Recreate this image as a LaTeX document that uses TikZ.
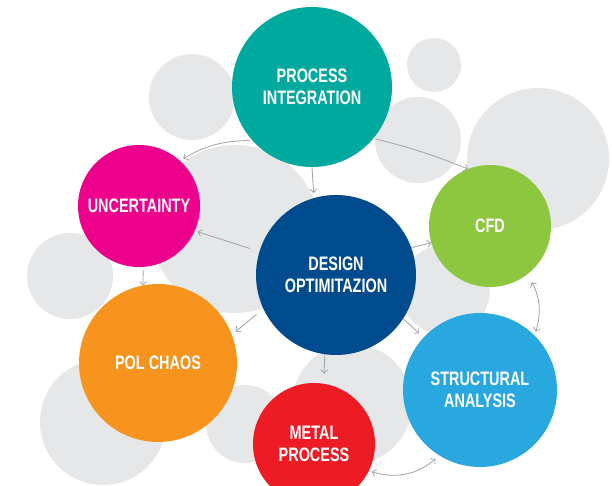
\documentclass[tikz,border=0pt]{standalone}
\usepackage{fontspec}
\newfontfamily\lblfont[FakeStretch=0.74]{Liberation Sans}
\usetikzlibrary{arrows.meta}
\definecolor{bggray}{HTML}{E6E7E8}
\definecolor{arrgray}{HTML}{A0A2A5}
\definecolor{cteal}{HTML}{00A99D}
\definecolor{cmag}{HTML}{EC008C}
\definecolor{cnavy}{HTML}{004B8D}
\definecolor{cgreen}{HTML}{8DC63F}
\definecolor{corange}{HTML}{F7941D}
\definecolor{csky}{HTML}{29A8E0}
\definecolor{cred}{HTML}{ED1C24}
\tikzset{
  bubble/.style={circle, fill=#1, draw=none, inner sep=0pt, outer sep=0pt,
    text=white, align=center, font=\lblfont\bfseries\fontsize{19.5}{22}\selectfont},
  bg/.style={fill=bggray, draw=none},
  conn/.style={draw=arrgray, line width=0.8pt, -{Straight Barb[length=3.5pt,width=7pt]}},
  dconn/.style={draw=arrgray, line width=0.8pt, {Straight Barb[length=3.5pt,width=7pt]}-{Straight Barb[length=3.5pt,width=7pt]}}
}
\begin{document}
\begin{tikzpicture}[x=1pt,y=1pt]
\useasboundingbox (0,0) rectangle (612,486);
\clip (0,0) rectangle (612,486);
% background gray circles
\fill[bg] (192,389) circle (43);
\fill[bg] (434,421) circle (27);
\fill[bg] (418,346) circle (43);
\fill[bg] (538,327) circle (71);
\fill[bg] (235,257) circle (84);
\fill[bg] (70,210) circle (43);
\fill[bg] (103,64) circle (63);
\fill[bg] (245,62) circle (39);
\fill[bg] (352,82) circle (60);
\fill[bg] (445,196) circle (45);
% main bubbles
\node[bubble=cteal, minimum size=160pt] (pi) at (312,399) {PROCESS\\INTEGRATION};
\node[bubble=cmag, minimum size=122pt] (unc) at (139,280) {UNCERTAINTY};
\node[bubble=cnavy, minimum size=160pt] (des) at (336,211) {DESIGN\\OPTIMITAZION};
\node[bubble=cgreen, minimum size=122pt] (cfd) at (490,260) {CFD};
\node[bubble=corange, minimum size=158pt] (pol) at (158,123) {POL CHAOS};
\node[bubble=csky, minimum size=154pt] (str) at (480,96) {STRUCTURAL\\ANALYSIS};
\node[bubble=cred, minimum size=122pt] (met) at (314,42) {METAL\\PROCESS};
% connectors
\draw[conn, shorten <=3pt, shorten >=4pt] (pi.222) to[bend right=15] (unc.48);
\draw[conn, shorten >=5pt] (pi.270) -- (des.106);
\draw[conn, shorten <=2pt] (pi.320) to[bend left=4] (cfd.111);
\draw[conn, shorten <=10pt, shorten >=3pt] (des.163) -- (unc.336);
\draw[conn] (des.20) -- (cfd.196);
\draw[conn, shorten <=9pt, shorten >=5pt] (des.205) -- (pol.21);
\draw[conn, shorten >=10pt] (des.262) -- (met.81);
\draw[conn, shorten >=6pt] (des.327) -- (str.137);
\draw[conn, shorten <=3pt] (unc.274) -- (pol.101);
\draw[dconn, shorten <=9pt, shorten >=4pt] (cfd.307) to[bend left=25] (str.45);
\draw[dconn, shorten <=3pt, shorten >=5pt] (met.334) to[bend right=30] (str.238);
\end{tikzpicture}
\end{document}
